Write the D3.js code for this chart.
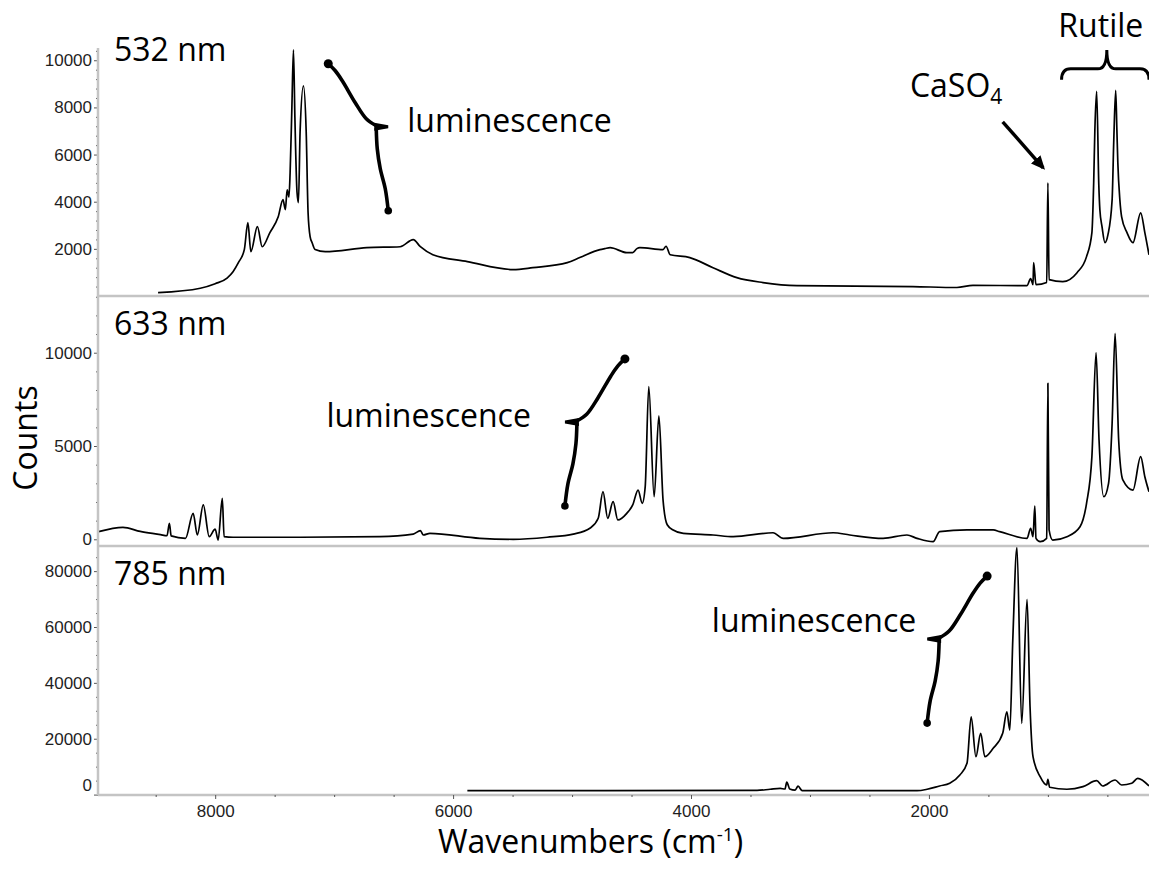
<!DOCTYPE html>
<html>
<head>
<meta charset="utf-8">
<script src="https://cdn.jsdelivr.net/npm/d3@7"></script>
<style>
  body { margin: 0; background: #fff; }
  .tick text { font-family: "Liberation Sans", Arial, sans-serif; font-size: 17px; fill: #1e1e1e; }
  .tick line { stroke: #555; }
  .big { font-family: "Open Sans", sans-serif; font-size: 32px; fill: #000; }
</style>
</head>
<body>
<div id="chart"></div>
<script>

// ---- data (wavenumber in cm-1, counts) ----
var wavenumbers532 = [8480, 8125, 8000, 7900, 7850, 7805, 7755, 7725, 7700, 7645,
                      7605, 7540, 7470, 7430, 7410, 7395, 7380, 7370, 7355, 7342,
                      7330, 7312, 7300, 7286, 7258, 7235, 7219, 7202, 7185, 7160,
                      7075, 6725, 6445, 6335, 6275, 6170, 5880, 5495,
                      5330, 5040, 4935, 4765, 4725, 4680, 4540, 4490, 4455, 4430,
                      4235, 4210, 4175, 4010, 3815, 3615, 3395, 3110, 2135, 1765,
                      1630, 1175, 1145, 1125, 1120, 1100, 1010, 1000, 990, 875,
                      755, 675, 630, 615, 605, 590, 572, 563, 545, 520, 495, 460,
                      446, 430, 420, 412, 395, 380, 335, 285, 220, 185, 150];
var counts532 = [140, 330, 520, 760, 1030, 1415, 1966, 3110, 1880, 2940,
                 2090, 2690, 3360, 4085, 3660, 4500, 4200, 5230, 8040, 10440,
                 7600, 4400, 3960, 6990, 8915, 6990, 3530, 2520, 2260, 1970,
                 1880, 2050, 2090, 2390, 2090, 1750, 1460, 1120,
                 1200, 1415, 1630, 1970, 2010, 2050, 1840, 1840, 2010, 2050,
                 1970, 2110, 1750, 1630, 1200, 780, 570, 440, 400, 360,
                 450, 440, 740, 480, 1415, 480, 570, 4805, 695, 610,
                 990, 1670, 2690, 4805, 7050, 8680, 4720, 3660, 2940, 2260, 2600, 4085,
                 6620, 8720, 7050, 5650, 4085, 3360, 2690, 2260, 3530, 2690, 1750];

var wavenumbers633 = [8980, 8775, 8630, 8460, 8405, 8385, 8370, 8250, 8185, 8150,
                      8100, 8050, 8000, 7975, 7940, 7925, 7850, 7285, 6615, 6335,
                      6275, 6250, 6195, 5775, 5495, 5210, 4990, 4850, 4780, 4740,
                      4700, 4655, 4615, 4540, 4490, 4445, 4410, 4385, 4355, 4310,
                      4270, 4235, 4200, 4150, 4065, 3815, 3645, 3310, 3225, 2805,
                      2665, 2385, 2185, 2100, 1965, 1910, 1680, 1460, 1405, 1175,
                      1145, 1125, 1110, 1100, 1065, 1010, 1000, 990, 960, 840,
                      730, 675, 630, 595, 570, 530, 490, 460, 435, 405,
                      370, 285, 220, 185, 150];
var counts633 = [410, 640, 420, 250, 190, 860, 180, 50, 1390, 230,
                 1840, 140, 540, -40, 2200, 140, 110, 110, 140, 280,
                 460, 230, 320, 50, 0, 110, 280, 590, 1125, 2550,
                 1125, 2015, 1035, 1390, 1840, 2640, 1930, 2820, 8180, 2280,
                 6610, 2100, 780, 500, 320, 230, 140, 350, 50, 350,
                 230, 50, 230, 50, -130, 410, 500, 500, 410, 50,
                 590, 140, 1785, 50, -130, 50, 8360, 500, -40, 140,
                 675, 1930, 4430, 10000, 5320, 2280, 3000, 6220, 11040, 5320,
                 3180, 2640, 4430, 3355, 2550];

var wavenumbers785 = [5880, 3445, 3335, 3250, 3210, 3195, 3170, 3125, 3100, 3065,
                      2100, 2015, 1910, 1825, 1740, 1680, 1645, 1605, 1565, 1530,
                      1460, 1380, 1345, 1320, 1295, 1260, 1220, 1175, 1150, 1125,
                      1065, 1010, 1000, 985, 840, 705, 590, 540, 435, 380,
                      295, 245, 150];
var counts785 = [1400, 1500, 1900, 2200, 2000, 4500, 2000, 1600, 3000, 1400,
                 1400, 1900, 3080, 4040, 7010, 11200, 27870, 13560, 21930, 13560,
                 16570, 21930, 29660, 23110, 55320, 88480, 25510, 69880, 31450, 13560,
                 6400, 3435, 5470, 2610, 1900, 2830, 4970, 3080, 5220, 3435,
                 4040, 5830, 3080];

var panelNames = ["532 nm", "633 nm", "785 nm"];
var yTicks532 = [2000, 4000, 6000, 8000, 10000];
var yTicks633 = [0, 5000, 10000];
var yTicks785 = [0, 20000, 40000, 60000, 80000];
var xTicks = [8000, 6000, 4000, 2000];

// annotation anchors, in (wavenumber, counts) of their panel
var luminescenceLabel = "luminescence";
var braceCusps = [[6545, 7180], [5060, 6290], [2015, 55670]];
var braceMirrored = [true, false, false];
var luminescenceAt = [[6385, 6965], [7065, 6020], [3825, 58180]];
var caso4LabelAt = [2160, 8450];
var caso4Arrow = [[1380, 7390], [1040, 5440]];
var rutileLabelAt = [555, 10990];
var rutileBrace = {from: 885, to: 150, ends: 9170, tip: 10440};

// ---- layout ----
var width = 1149,
    height = 876,
    left = 98,
    axisColor = "#c4c4c4";

var panels = [
    {name: panelNames[0], wn: wavenumbers532, counts: counts532, top: 48, bottom: 296,
     domain: [0, 10520], ticks: yTicks532, minorStep: 400, nameDy: 13},
    {name: panelNames[1], wn: wavenumbers633, counts: counts633, top: 296, bottom: 546,
     domain: [-360, 13040], ticks: yTicks633, minorStep: 1000, nameDy: 39},
    {name: panelNames[2], wn: wavenumbers785, counts: counts785, top: 546, bottom: 795,
     domain: [-150, 89000], ticks: yTicks785, minorStep: 5000, nameDy: 39}
];

var x = d3.scaleLinear()
    .domain([8985, 150])
    .range([left, width]);

var svg = d3.select("#chart").append("svg")
    .attr("width", width)
    .attr("height", height);

var defs = svg.append("defs");
defs.append("marker")
    .attr("id", "head")
    .attr("viewBox", "0 0 10 10")
    .attr("refX", 8)
    .attr("refY", 5)
    .attr("markerUnits", "userSpaceOnUse")
    .attr("markerWidth", 14)
    .attr("markerHeight", 14)
    .attr("orient", "auto")
    .append("path")
    .attr("d", "M0,0.5 L10,5 L0,9.5 Z")
    .attr("fill", "#000");

// brace template, cusp at (0,0), arms opening to the right
var braceUpper = [[12, -1], [22, -8], [33, -24], [46, -46], [53, -56], [60, -63]],
    braceLower = [[12, 2], [11, 22], [8, 42], [3, 62], [0, 84]];

var armLine = d3.line().curve(d3.curveCatmullRom);

panels.forEach(function (p, i) {

    var y = d3.scaleLinear()
        .domain(p.domain)
        .range([p.bottom, p.top]);
    p.y = y;

    var g = svg.append("g").attr("class", "panel");

    // minor ticks
    var minor = d3.range(Math.ceil(p.domain[0] / p.minorStep) * p.minorStep, p.domain[1], p.minorStep)
        .filter(function (v) { return p.ticks.indexOf(v) < 0 && v > p.domain[0]; });

    g.append("g")
        .attr("transform", "translate(" + left + ",0)")
        .call(d3.axisLeft(y).tickValues(minor).tickSize(2).tickSizeOuter(0).tickFormat(""))
        .call(function (a) { a.select(".domain").remove(); });

    var yAxis = g.append("g")
        .attr("transform", "translate(" + left + ",0)")
        .call(d3.axisLeft(y).tickValues(p.ticks).tickSize(4).tickSizeOuter(0).tickPadding(2)
            .tickFormat(d3.format("d")))
        .call(function (a) { a.select(".domain").remove(); });

    // the 0 label of the 785 panel sits a bit above the frame
    if (i === 2) {
        yAxis.selectAll(".tick text")
            .filter(function (d) { return d === 0; })
            .attr("y", -10);
    }

    // spectrum
    var line = d3.line()
        .curve(d3.curveMonotoneX)
        .x(function (d) { return x(d[0]); })
        .y(function (d) { return y(d[1]); });

    g.append("path")
        .datum(d3.zip(p.wn, p.counts))
        .attr("d", line)
        .attr("fill", "none")
        .attr("stroke", "#000")
        .attr("stroke-width", 1.7)
        .attr("stroke-linejoin", "round");

    // panel name
    g.append("text")
        .attr("class", "big")
        .attr("x", left + 16)
        .attr("y", p.top + p.nameDy)
        .text(p.name);

    // luminescence label and brace
    g.append("text")
        .attr("class", "big")
        .attr("x", x(luminescenceAt[i][0]))
        .attr("y", y(luminescenceAt[i][1]))
        .text(luminescenceLabel);

    var s = braceMirrored[i] ? -1 : 1,
        cx = x(braceCusps[i][0]),
        cy = y(braceCusps[i][1]);

    var brace = g.append("g")
        .attr("transform", "translate(" + cx + "," + cy + ") scale(" + s + ",1)");

    [braceUpper, braceLower].forEach(function (arm) {
        brace.append("path")
            .attr("d", armLine(arm))
            .attr("fill", "none")
            .attr("stroke", "#000")
            .attr("stroke-width", 3.6)
            .attr("stroke-linecap", "round");
    });
    brace.append("path")
        .attr("d", "M0,-1.5 L14,-4 L14,4 L0,1.5 Z")
        .attr("fill", "#000");
    brace.append("circle")
        .attr("cx", braceUpper[braceUpper.length - 1][0])
        .attr("cy", braceUpper[braceUpper.length - 1][1])
        .attr("r", 4.5);
    brace.append("circle")
        .attr("cx", braceLower[braceLower.length - 1][0])
        .attr("cy", braceLower[braceLower.length - 1][1])
        .attr("r", 3.8);
});

// frame: left axis line and panel separators
svg.append("line")
    .attr("x1", left).attr("x2", left)
    .attr("y1", panels[0].top).attr("y2", panels[2].bottom)
    .attr("stroke", axisColor).attr("stroke-width", 2.5);

panels.forEach(function (p) {
    svg.append("line")
        .attr("x1", left).attr("x2", width)
        .attr("y1", p.bottom).attr("y2", p.bottom)
        .attr("stroke", axisColor).attr("stroke-width", 2.5);
});

// x axis
var xMinor = d3.range(500, 9000, 500).filter(function (v) { return xTicks.indexOf(v) < 0; });

svg.append("g")
    .attr("transform", "translate(0," + panels[2].bottom + ")")
    .call(d3.axisBottom(x).tickValues(xMinor).tickSize(2).tickSizeOuter(0).tickFormat(""))
    .call(function (a) { a.select(".domain").remove(); });

svg.append("g")
    .attr("transform", "translate(0," + panels[2].bottom + ")")
    .call(d3.axisBottom(x).tickValues(xTicks).tickSize(4).tickSizeOuter(0).tickPadding(6)
        .tickFormat(d3.format("d")))
    .call(function (a) { a.select(".domain").remove(); });

// CaSO4 arrow (532 panel coordinates)
var y532 = panels[0].y;

var caso4 = svg.append("text")
    .attr("class", "big")
    .attr("x", x(caso4LabelAt[0]))
    .attr("y", y532(caso4LabelAt[1]));
caso4.append("tspan").text("CaSO");
caso4.append("tspan").attr("dy", 7).style("font-size", "21px").text("4");

svg.append("line")
    .attr("x1", x(caso4Arrow[0][0])).attr("y1", y532(caso4Arrow[0][1]))
    .attr("x2", x(caso4Arrow[1][0])).attr("y2", y532(caso4Arrow[1][1]))
    .attr("stroke", "#000")
    .attr("stroke-width", 3.4)
    .attr("marker-end", "url(#head)");

// Rutile brace
svg.append("text")
    .attr("class", "big")
    .attr("text-anchor", "middle")
    .attr("x", x(rutileLabelAt[0]))
    .attr("y", y532(rutileLabelAt[1]))
    .text("Rutile");

(function () {
    var x0 = x(rutileBrace.from), x1 = x(rutileBrace.to),
        y0 = y532(rutileBrace.ends), yt = y532(rutileBrace.tip),
        xc = x(rutileLabelAt[0]) + 6, ym = y0 - 11, r = 9;
    var d = "M" + x0 + "," + y0 +
        " Q" + x0 + "," + ym + " " + (x0 + r) + "," + ym +
        " L" + (xc - r) + "," + ym +
        " Q" + xc + "," + ym + " " + xc + "," + yt +
        " Q" + xc + "," + ym + " " + (xc + r) + "," + ym +
        " L" + (x1 - r) + "," + ym +
        " Q" + x1 + "," + ym + " " + x1 + "," + y0;
    svg.append("path")
        .attr("d", d)
        .attr("fill", "none")
        .attr("stroke", "#000")
        .attr("stroke-width", 3);
})();

// axis titles
svg.append("text")
    .attr("class", "big")
    .attr("text-anchor", "middle")
    .attr("transform", "translate(37,438) rotate(-90)")
    .text("Counts");

var xTitle = svg.append("text")
    .attr("class", "big")
    .attr("x", 438)
    .attr("y", 853);
xTitle.append("tspan").text("Wavenumbers (cm");
xTitle.append("tspan").attr("dy", -12).style("font-size", "19px").text("-1");
xTitle.append("tspan").attr("dy", 12).text(")");

</script>
</body>
</html>
